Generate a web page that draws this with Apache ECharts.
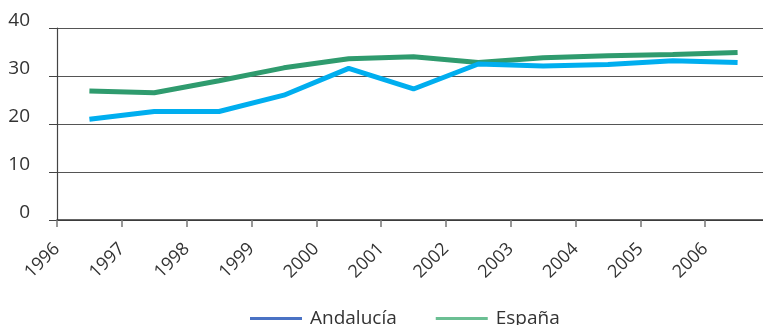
<!DOCTYPE html>
<html>
<head>
<meta charset="utf-8">
<script src="https://cdn.jsdelivr.net/npm/echarts@6/dist/echarts.min.js"></script>
<style>
html,body{margin:0;padding:0;background:#fff;}
#chart{width:763px;height:325px;}
</style>
</head>
<body>
<div id="chart"></div>
<script>
const years = ['1996','1997','1998','1999','2000','2001','2002','2003','2004','2005','2006'];
const andalucia = [21.0, 22.6, 22.6, 26.0, 31.6, 27.3, 32.5, 32.1, 32.4, 33.2, 32.8];
const espana = [26.9, 26.5, 29.0, 31.7, 33.6, 34.0, 32.8, 33.8, 34.2, 34.5, 34.9];
const yTicks = [0, 10, 20, 30, 40];
const firstYear = 1996;

const FONT = '"Open Sans", sans-serif';
const chart = echarts.init(document.getElementById('chart'));
chart.setOption({
  animation: false,
  grid: { left: 57, right: -7, top: 28, bottom: 105, containLabel: false, outerBoundsMode: 'none' },
  legend: {
    left: 250, top: 309, padding: 0,
    itemWidth: 52, itemHeight: 3, itemGap: 39,
    icon: 'rect',
    textStyle: { fontFamily: FONT, fontSize: 19, color: '#333', padding: [0, 0, 0, 3] },
    data: [
      { name: 'Andalucía', itemStyle: { color: '#4a72c4' } },
      { name: 'España', itemStyle: { color: '#6bbf93' } }
    ]
  },
  xAxis: [
    { type: 'category', data: years, boundaryGap: true, show: false },
    {
      type: 'value', min: firstYear, max: firstYear + years.length, interval: 1,
      position: 'bottom',
      axisLine: { show: true, onZero: false, lineStyle: { color: '#333', width: 1.5 } },
      axisTick: { show: true, length: 7, lineStyle: { color: '#777', width: 1.5 } },
      splitLine: { show: false },
      axisLabel: {
        rotate: 45, margin: 26, fontFamily: FONT, fontSize: 18, color: '#333',
        showMaxLabel: false, hideOverlap: false,
        formatter: v => (v - firstYear < years.length ? years[v - firstYear] : '')
      }
    }
  ],
  yAxis: {
    type: 'value', min: yTicks[0], max: yTicks[yTicks.length - 1], interval: 10,
    axisLine: { show: true, lineStyle: { color: '#444', width: 1.2 } },
    axisTick: { show: true, inside: false, length: 8, lineStyle: { color: '#444' } },
    splitLine: { show: true, lineStyle: { color: '#555', width: 1.2 } },
    axisLabel: {
      margin: 27, fontFamily: FONT, fontSize: 19, color: '#333',
      verticalAlign: 'bottom', lineHeight: 15
    }
  },
  series: [
    {
      name: 'Andalucía', type: 'line', xAxisIndex: 0, data: andalucia,
      symbol: 'none', lineStyle: { color: '#00aeef', width: 5 }, itemStyle: { color: '#00aeef' }, z: 3
    },
    {
      name: 'España', type: 'line', xAxisIndex: 0, data: espana,
      symbol: 'none', lineStyle: { color: '#2f9b6e', width: 5 }, itemStyle: { color: '#2f9b6e' }, z: 2
    }
  ]
});
</script>
</body>
</html>
